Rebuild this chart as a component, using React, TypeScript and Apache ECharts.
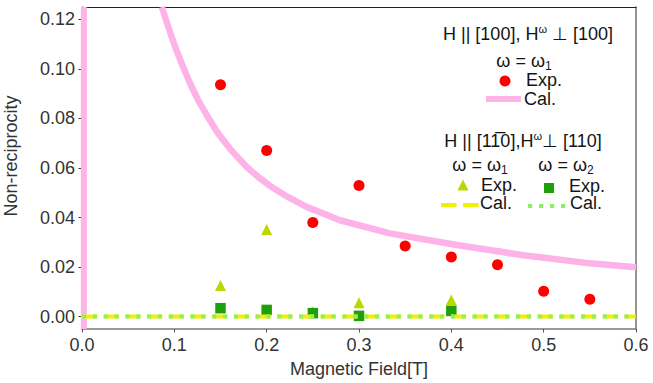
import React, { useEffect, useRef } from "react";
import * as echarts from "echarts";

// ---- data ----
const expOmega1X = [0.15, 0.2, 0.25, 0.3, 0.35, 0.4, 0.45, 0.5, 0.55];
const expOmega1Y = [0.0936, 0.0671, 0.038, 0.0529, 0.0285, 0.0241, 0.0209, 0.0102, 0.007];

const calCurveX = [0.0865, 0.0912, 0.0961, 0.1028, 0.1097, 0.1175, 0.126, 0.1365, 0.1477, 0.1625, 0.1784, 0.1915, 0.2055, 0.2233, 0.2433, 0.2794, 0.3336, 0.4058, 0.478, 0.5502, 0.6];
const calCurveY = [0.125, 0.1195, 0.114, 0.107, 0.1006, 0.0938, 0.0872, 0.0805, 0.0738, 0.0668, 0.0604, 0.0562, 0.0523, 0.0482, 0.0443, 0.0389, 0.0336, 0.0289, 0.0248, 0.0215, 0.0199];
const calEdgeX = [0.002, 0.002];
const calEdgeY = [-0.005, 0.125];

const triX = [0.15, 0.2, 0.25, 0.3, 0.4];
const triY = [0.0126, 0.0352, 0.002, 0.0056, 0.0067];

const sqX = [0.15, 0.2, 0.25, 0.3, 0.4];
const sqY = [0.0034, 0.0027, 0.0014, 0.0003, 0.0023];

const calZeroX = [0, 0.6];
const calOmega1Y = [0, 0];
const calOmega2Y = [0, 0];

const yTicks = [0, 0.02, 0.04, 0.06, 0.08, 0.1, 0.12];

const zip = (xs: number[], ys: number[]) => xs.map((x, i) => [x, ys[i]]);

const FONT = '"Liberation Sans", Arial, Helvetica, sans-serif';
const C_RED = "#ff0000";
const C_PINK = "#fdb2e8";
const C_TRI = "#bdd600";
const C_SQ = "#1ea00a";
const C_YEL = "#f0f000";
const C_LGRN = "#8ef060";
const TXT = "#141414";

function buildOption() {
  const n = { fontSize: 18, fontFamily: FONT, fill: TXT, lineHeight: 22 };
  const sup = { fontSize: 11, fontFamily: FONT, fill: TXT, lineHeight: 12, verticalAlign: "top" };
  const sub = { fontSize: 12, fontFamily: FONT, fill: TXT, lineHeight: 12, verticalAlign: "bottom" };
  const label = (x: number, y: number, text: string, align = "left") => ({
    type: "text",
    x,
    y,
    z: 100,
    style: { text, font: `18px ${FONT}`, fill: TXT, align, verticalAlign: "middle" },
  });
  const rich = (x: number, y: number, text: string) => ({
    type: "text",
    x,
    y,
    z: 100,
    style: { text, rich: { n, s: sup, b: sub }, align: "center", verticalAlign: "middle" },
  });

  const graphic: any[] = [
    {
      type: "text",
      x: 11,
      y: 156,
      rotation: Math.PI / 2,
      style: { text: "Non-reciprocity", font: `18px ${FONT}`, fill: "#333", align: "center", verticalAlign: "middle" },
    },
    rich(528, 34, "{n|H || [100], H}{s|ω}{n| ⊥ [100]}"),
    rich(524, 61, "{n|ω = ω}{b|1}"),
    { type: "circle", z: 100, shape: { cx: 505, cy: 81, r: 5.5 }, style: { fill: C_RED } },
    label(526, 80, "Exp."),
    { type: "line", z: 100, shape: { x1: 486, y1: 99, x2: 521, y2: 99 }, style: { stroke: C_PINK, lineWidth: 6 } },
    label(524, 99, "Cal."),
    rich(523, 141, "{n|H || [11\u03050],H}{s|ω}{n|⊥ [110]}"),
    rich(480, 165, "{n|ω = ω}{b|1}"),
    rich(566, 165, "{n|ω = ω}{b|2}"),
    {
      type: "polygon",
      z: 100,
      shape: { points: [[463, 179.5], [457.5, 190.5], [468.5, 190.5]] },
      style: { fill: C_TRI },
    },
    label(481, 185, "Exp."),
    { type: "rect", z: 100, shape: { x: 544, y: 183, width: 10, height: 10 }, style: { fill: C_SQ } },
    label(569, 186, "Exp."),
    {
      type: "line",
      z: 100,
      shape: { x1: 441, y1: 205, x2: 479, y2: 205 },
      style: { stroke: C_YEL, lineWidth: 4, lineDash: [15.5, 6.5] },
    },
    label(480, 203, "Cal."),
    {
      type: "line",
      z: 100,
      shape: { x1: 528, y1: 206, x2: 566, y2: 206 },
      style: { stroke: C_LGRN, lineWidth: 4, lineDash: [4.2, 6.8] },
    },
    label(570, 203, "Cal."),
  ];

  return {
    animation: false,
    backgroundColor: "#ffffff",
    grid: { left: 82, right: 17, top: 7, bottom: 54, outerBoundsMode: "none", containLabel: false },
    graphic,
    xAxis: [
      {
        type: "value",
        min: 0,
        max: 0.6,
        interval: 0.1,
        position: "bottom",
        name: "Magnetic Field[T]",
        nameLocation: "middle",
        nameGap: 31,
        nameTextStyle: { fontSize: 18, fontFamily: FONT, color: "#333" },
        axisLine: { show: true, onZero: false, lineStyle: { color: "#7a7a7a", width: 1.6 } },
        axisTick: { show: true, inside: false, length: 3.5, lineStyle: { color: "#555", width: 1 } },
        axisLabel: { fontSize: 18, fontFamily: FONT, color: "#333", margin: 7, formatter: (v: number) => v.toFixed(1) },
        splitLine: { show: false },
      },
      {
        type: "value",
        min: 0,
        max: 0.6,
        position: "top",
        axisLine: { show: true, onZero: false, lineStyle: { color: "#222", width: 1.2 } },
        axisTick: { show: false },
        axisLabel: { show: false },
        splitLine: { show: false },
      },
    ],
    yAxis: [
      {
        type: "value",
        min: -0.005,
        max: 0.125,
        position: "left",
        axisLine: { show: true, onZero: false, lineStyle: { color: "#222", width: 1.2 } },
        axisTick: { show: true, inside: false, length: 3.5, customValues: yTicks, lineStyle: { color: "#333", width: 1 } },
        axisLabel: {
          fontSize: 18,
          fontFamily: FONT,
          color: "#333",
          margin: 7,
          customValues: yTicks,
          formatter: (v: number) => v.toFixed(2),
        },
        splitLine: { show: false },
      },
      {
        type: "value",
        min: -0.005,
        max: 0.125,
        position: "right",
        axisLine: { show: true, onZero: false, lineStyle: { color: "#7a7a7a", width: 1.6 } },
        axisTick: { show: false },
        axisLabel: { show: false },
        splitLine: { show: false },
      },
    ],
    series: [
      {
        name: "Exp. [100] ω1",
        type: "scatter",
        data: zip(expOmega1X, expOmega1Y),
        symbol: "circle",
        symbolSize: 11,
        itemStyle: { color: C_RED, opacity: 1 },
        z: 2,
      },
      {
        name: "Exp. [1-10] ω1",
        type: "scatter",
        data: zip(triX, triY),
        symbol: "triangle",
        symbolSize: 11,
        itemStyle: { color: C_TRI, opacity: 1 },
        z: 2,
      },
      {
        name: "Exp. [1-10] ω2",
        type: "scatter",
        data: zip(sqX, sqY),
        symbol: "rect",
        symbolSize: 10.5,
        itemStyle: { color: C_SQ, opacity: 1 },
        z: 2,
      },
      {
        name: "Cal. [100]",
        type: "line",
        data: zip(calCurveX, calCurveY),
        showSymbol: false,
        symbol: "none",
        smooth: false,
        lineStyle: { color: C_PINK, width: 6.5, join: "round" },
        z: 3,
      },
      {
        name: "Cal. [100] edge",
        type: "line",
        data: zip(calEdgeX, calEdgeY),
        showSymbol: false,
        symbol: "none",
        lineStyle: { color: C_PINK, width: 6 },
        z: 3,
      },
      {
        name: "Cal. [1-10] ω1",
        type: "line",
        data: zip(calZeroX, calOmega1Y),
        showSymbol: false,
        symbol: "none",
        lineStyle: { color: C_YEL, width: 4, type: [15.2, 6.5] },
        z: 4,
      },
      {
        name: "Cal. [1-10] ω2",
        type: "line",
        data: zip(calZeroX, calOmega2Y),
        showSymbol: false,
        symbol: "none",
        lineStyle: { color: C_LGRN, width: 4, type: [4.1, 6.75] },
        z: 5,
      },
    ],
  };
}

export default function App() {
  const ref = useRef<HTMLDivElement>(null);
  useEffect(() => {
    document.body.style.margin = "0";
    if (!ref.current) return;
    const chart = echarts.init(ref.current, undefined, { renderer: "svg" });
    chart.setOption(buildOption() as any);
    return () => chart.dispose();
  }, []);
  return (
    <div
      ref={ref}
      style={{ position: "absolute", left: 0, top: 0, width: 653, height: 383, background: "#fff" }}
    />
  );
}
